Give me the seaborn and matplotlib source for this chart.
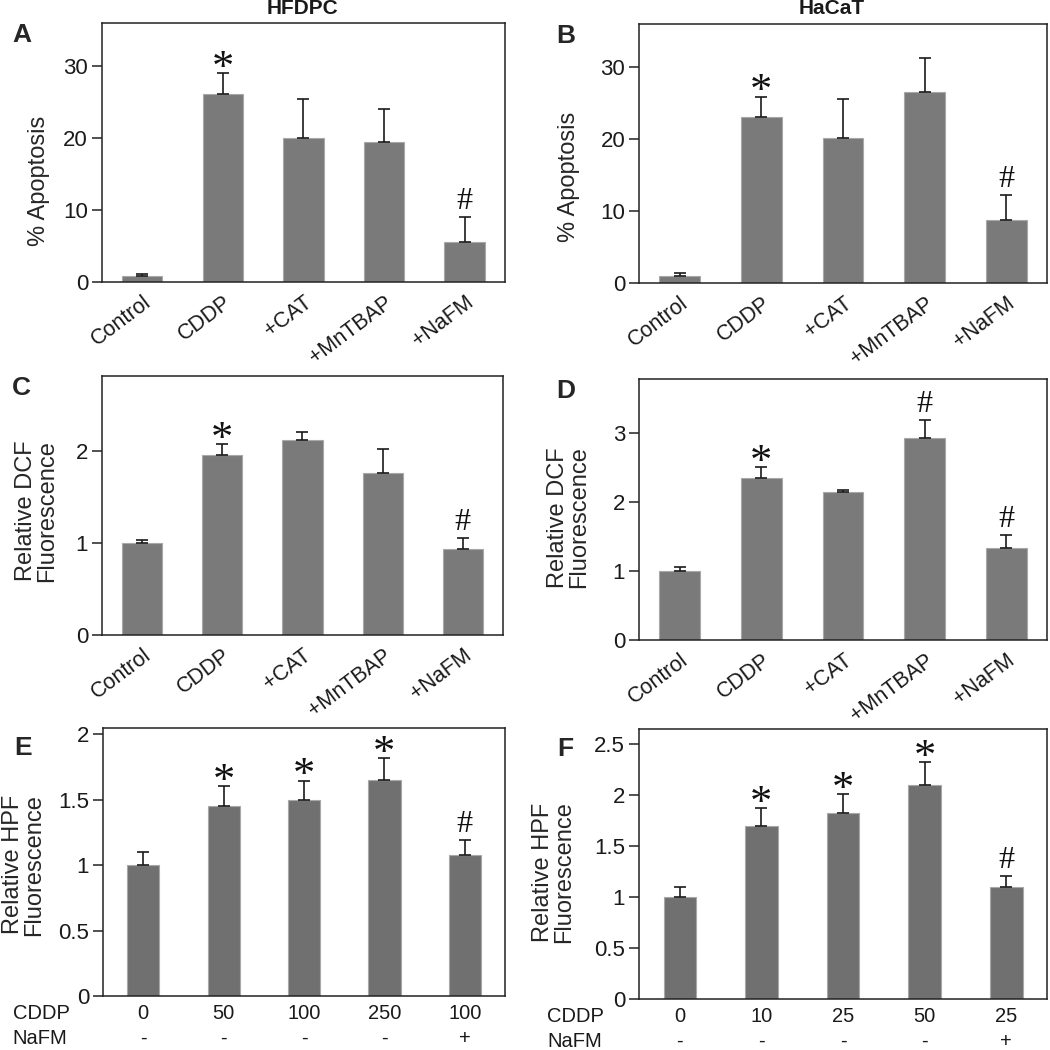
import numpy as np
import pandas as pd
import matplotlib
matplotlib.use("Agg")
import matplotlib.pyplot as plt
import seaborn as sns

sns.set_style("ticks")
plt.rcParams['font.family'] = ['Liberation Sans', 'DejaVu Sans']

treatments = ['Control', 'CDDP', '+CAT', '+MnTBAP', '+NaFM']

apop_hfdpc = [0.9, 26.1, 20.0, 19.5, 5.5]
apop_hfdpc_err = [0.2, 2.9, 5.4, 4.6, 3.5]
apop_hacat = [0.95, 23.1, 20.2, 26.5, 8.7]
apop_hacat_err = [0.45, 2.8, 5.4, 4.7, 3.5]

dcf_hfdpc = [1.0, 1.96, 2.12, 1.76, 0.935]
dcf_hfdpc_err = [0.04, 0.12, 0.09, 0.26, 0.125]
dcf_hacat = [1.0, 2.35, 2.15, 2.93, 1.33]
dcf_hacat_err = [0.06, 0.16, 0.03, 0.27, 0.2]

cddp_hfdpc = ['0', '50', '100', '250', '100']
cddp_hacat = ['0', '10', '25', '50', '25']
nafm = ['-', '-', '-', '-', '+']
hpf_hfdpc = [1.0, 1.45, 1.5, 1.65, 1.08]
hpf_hfdpc_err = [0.1, 0.15, 0.145, 0.17, 0.11]
hpf_hacat = [1.0, 1.7, 1.82, 2.1, 1.1]
hpf_hacat_err = [0.1, 0.175, 0.19, 0.22, 0.11]

marks_ab = ['', '*', '', '', '#']
marks_c = ['', '*', '', '', '#']
marks_d = ['', '*', '', '#', '#']
marks_ef = ['', '*', '*', '*', '#']

fig = plt.figure(figsize=(10.5, 10.5), dpi=100)

panels = [
    # letter, rect, labels, values, errors, marks, ylim, yticks, ylabel, width, color
    ('A', [0.0971, 0.7314, 0.3838, 0.2467], treatments, apop_hfdpc, apop_hfdpc_err, marks_ab,
     36, [0, 10, 20, 30], '% Apoptosis', 0.5, '#7a7a7a'),
    ('B', [0.6086, 0.7305, 0.3886, 0.2467], treatments, apop_hacat, apop_hacat_err, marks_ab,
     36, [0, 10, 20, 30], '% Apoptosis', 0.5, '#7a7a7a'),
    ('C', [0.0971, 0.3952, 0.3819, 0.2467], treatments, dcf_hfdpc, dcf_hfdpc_err, marks_c,
     2.82, [0, 1, 2], 'Relative DCF\nFluorescence', 0.5, '#7a7a7a'),
    ('D', [0.6086, 0.3905, 0.3886, 0.2486], treatments, dcf_hacat, dcf_hacat_err, marks_d,
     3.79, [0, 1, 2, 3], 'Relative DCF\nFluorescence', 0.5, '#7a7a7a'),
    ('E', [0.0981, 0.0514, 0.3829, 0.2552], cddp_hfdpc, hpf_hfdpc, hpf_hfdpc_err, marks_ef,
     2.046, [0, 0.5, 1, 1.5, 2], 'Relative HPF\nFluorescence', 0.4, '#707070'),
    ('F', [0.6086, 0.0486, 0.3886, 0.2571], cddp_hacat, hpf_hacat, hpf_hacat_err, marks_ef,
     2.647, [0, 0.5, 1, 1.5, 2, 2.5], 'Relative HPF\nFluorescence', 0.4, '#707070'),
]

# right edge / vertical centre of the y label, in axes fraction
ylabel_pos = {'A': (-0.129, 0.39), 'B': (-0.145, 0.41), 'C': (-0.11, 0.48),
              'D': (-0.12, 0.47), 'E': (-0.144, 0.49), 'F': (-0.157, 0.47)}

for letter, rect, labels, vals, errs, marks, ytop, yticks, ylabel, width, color in panels:
    ax = fig.add_axes(rect)
    df = pd.DataFrame({'group': [str(i) for i in range(len(vals))], 'value': vals})
    sns.barplot(data=df, x='group', y='value', ax=ax, color=color, width=width,
                saturation=1, edgecolor='#a8a8a8', linewidth=0.8, errorbar=None)
    xs = [p.get_x() + p.get_width() / 2 for p in ax.patches]
    errs = np.array(errs)
    ax.errorbar(xs, vals, yerr=[np.zeros_like(errs), errs], fmt='none',
                ecolor='#1a1a1a', elinewidth=1.2, capsize=4, capthick=1.2, zorder=1)
    for x, v, e, m in zip(xs, vals, errs, marks):
        if m == '*':
            ax.annotate('*', xy=(x, v + e), xytext=(0, 3), textcoords='offset points',
                        ha='center', va='center', fontsize=32, family='Liberation Serif',
                        color='#111111')
        elif m == '#':
            ax.annotate('#', xy=(x, v + e), xytext=(0, 11), textcoords='offset points',
                        ha='center', va='center', fontsize=23, family='Liberation Serif',
                        color='#111111')
    ax.set_xlim(-0.5, len(vals) - 0.5)
    ax.set_ylim(0, ytop)
    ax.set_yticks(yticks)
    ax.set_yticklabels([f'{t:g}' for t in yticks])
    for s in ax.spines.values():
        s.set_visible(True)
        s.set_linewidth(1.1)
        s.set_color('#222222')
    ax.tick_params(axis='y', direction='out', length=7, width=1.1, labelsize=16,
                   color='#222222', labelcolor='#1a1a1a', pad=3)
    ax.tick_params(axis='x', length=0, labelsize=15.5, labelcolor='#1a1a1a')
    ax.set_xlabel('')
    ax.set_xticks(range(len(labels)))
    ax.set_ylabel(ylabel, fontsize=17, linespacing=0.95)
    if letter in 'ABCD':
        ax.set_xticklabels(labels, rotation=37, ha='right', rotation_mode='anchor')
        ax.tick_params(axis='x', pad=7)
    else:
        ax.set_xticklabels([f'{c}\n{n}' for c, n in zip(labels, nafm)], linespacing=1.35,
                           va='top', fontsize=14.5)
        ax.tick_params(axis='x', pad=6)
        ax.annotate('CDDP\nNaFM', xy=(-0.225, 0), xycoords='axes fraction',
                    xytext=(0, -6), textcoords='offset points', ha='left', va='top',
                    fontsize=14.5, linespacing=1.35, color='#1a1a1a')
    ax.yaxis.set_label_coords(*ylabel_pos[letter])
    # panel letter
    lx = -0.2 if letter in 'ACE' else -0.18
    ax.text(lx, 1.0 if letter in 'ABCD' else 0.97, letter, transform=ax.transAxes,
            fontsize=19, fontweight='bold', ha='center', va='top')

fig.text(302 / 1050, 1 - 9 / 1050, 'HFDPC', ha='center', va='center', fontsize=15,
         fontweight='bold', color='#1a1a1a')
fig.text(832 / 1050, 1 - 9 / 1050, 'HaCaT', ha='center', va='center', fontsize=15,
         fontweight='bold', color='#1a1a1a')

fig.savefig('out.png', dpi=100)
